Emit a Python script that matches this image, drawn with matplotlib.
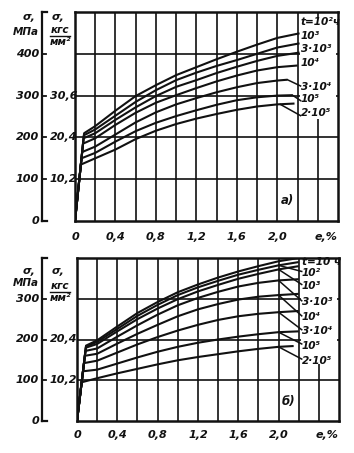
import numpy as np
import matplotlib
matplotlib.use('Agg')
import matplotlib.pyplot as plt
from matplotlib.transforms import blended_transform_factory
from matplotlib.lines import Line2D
from matplotlib.patches import Rectangle

plt.rcParams['font.family'] = ['DejaVu Sans Condensed', 'Liberation Sans Narrow', 'DejaVu Sans']
FS = dict(style='italic', weight='bold')

# ---------------- data ----------------
strain_grid = [0.2, 0.4, 0.6, 0.8, 1.0, 1.2, 1.4, 1.6, 1.8, 2.0]
x_tick_vals = [0, 0.4, 0.8, 1.2, 1.6, 2.0]
x_tick_text = ['0', '0,4', '0,8', '1,2', '1,6', '2,0']

# panel а) -- stress, MPa
a_labels = ['t=10²ч', '10³', '3·10³', '10⁴', '3·10⁴', '10⁵', '2·10⁵']
a_knee_e = [0.090, 0.088, 0.085, 0.079, 0.071, 0.064, 0.058]
a_knee_s = [210, 205, 198, 185, 165, 150, 135]
a_s_1e2 = [227, 264, 299, 325, 349, 368, 387, 405, 422, 438]
a_s_1e3 = [219, 252, 285, 313, 337, 355, 371, 385, 400, 415]
a_s_3e3 = [210, 242, 272, 299, 321, 337, 354, 369, 383, 395]
a_s_1e4 = [198, 230, 259, 283, 301, 318, 334, 348, 360, 368]
a_s_3e4 = [178, 207, 236, 260, 279, 294, 308, 320, 330, 336]
a_s_1e5 = [163, 190, 215, 235, 251, 265, 278, 289, 296, 300]
a_s_2e5 = [150, 171, 196, 216, 232, 245, 256, 266, 274, 279]
a_end_e = [2.22, 2.22, 2.22, 2.20, 2.10, 2.15, 2.17]
a_end_s = [449, 425, 403, 372, 338, 301, 281]
a_series = [a_s_1e2, a_s_1e3, a_s_3e3, a_s_1e4, a_s_3e4, a_s_1e5, a_s_2e5]

# panel б) -- stress, MPa
b_labels = ['t=10 ч', '10²', '10³', '3·10³', '10⁴', '3·10⁴', '10⁵', '2·10⁵']
b_knee_e = [0.090, 0.089, 0.088, 0.084, 0.078, 0.069, 0.060, 0.046]
b_knee_s = [185, 183, 180, 172, 160, 142, 122, 95]
b_s_10 = [198, 232, 265, 292, 316, 335, 352, 367, 380, 392]
b_s_1e2 = [194, 226, 258, 285, 309, 328, 344, 359, 371, 382]
b_s_1e3 = [189, 220, 250, 276, 299, 318, 334, 349, 361, 372]
b_s_3e3 = [178, 207, 235, 261, 284, 302, 317, 330, 339, 345]
b_s_1e4 = [165, 190, 214, 236, 257, 274, 287, 298, 305, 309]
b_s_3e4 = [148, 168, 188, 206, 222, 236, 248, 257, 263, 267]
b_s_1e5 = [126, 141, 156, 170, 182, 192, 200, 207, 213, 218]
b_s_2e5 = [105, 117, 128, 139, 149, 157, 164, 171, 177, 182]
b_end_e = [2.20, 2.20, 2.20, 2.20, 2.20, 2.20, 2.20, 2.15]
b_end_s = [400, 390, 380, 348, 312, 270, 220, 184]
b_series = [b_s_10, b_s_1e2, b_s_1e3, b_s_3e3, b_s_1e4, b_s_3e4, b_s_1e5, b_s_2e5]

mpa_ticks_a = [0, 100, 200, 300, 400]
kgf_ticks_a = [100, 200, 300]
kgf_text_a = ['10,2', '20,4', '30,6']
mpa_ticks_b = [0, 100, 200, 300]
kgf_ticks_b = [100, 200]
kgf_text_b = ['10,2', '20,4']

# ---------------- figure ----------------
W, H = 354, 453
fig = plt.figure(figsize=(W / 100, H / 100), dpi=100)
fig.patch.set_facecolor('white')

def px_axes(l, t, r, b):
    return fig.add_axes([l / W, 1 - b / H, (r - l) / W, (b - t) / H])

def fx(x):
    return x / W

def fy(y):
    return 1 - y / H

INK = '#111111'
LAB = 7.6

def setup(ax, ymax, ytop_tick):
    ax.set_xlim(0, 2.6)
    ax.set_ylim(0, ymax)
    ax.set_xticks(np.arange(0.2, 2.59, 0.2))
    ax.set_yticks(np.arange(100, ytop_tick + 1, 100))
    ax.grid(True, color=INK, lw=1.2)
    ax.tick_params(length=0, labelleft=False, labelbottom=False)
    for s in ax.spines.values():
        s.set_linewidth(1.8)
        s.set_color(INK)
    ax.set_axisbelow(True)
    for v, t in zip(x_tick_vals, x_tick_text):
        ax.text(v, -0.055 * ymax, t, ha='center', va='top', fontsize=8, color=INK, **FS)
    ax.text(2.48, -0.055 * ymax, 'e,%', ha='center', va='top', fontsize=8, color=INK, **FS)

def draw_curves(ax, knee_e, knee_s, series, end_e, end_s):
    for ke, ks, s, ee, es in zip(knee_e, knee_s, series, end_e, end_s):
        xs = [0, ke] + [g for g in strain_grid if g <= ee] + [ee]
        ys = [0, ks] + [v for g, v in zip(strain_grid, s) if g <= ee] + [es]
        ax.plot(xs, ys, color=INK, lw=1.5, solid_capstyle='butt', zorder=3)

def left_axis(ax, ymax, mpa_ticks, kgf_ticks, kgf_text):
    tr = blended_transform_factory(fig.transFigure, ax.transData)
    ax_l = 42
    fig.add_artist(Line2D([fx(ax_l)] * 2, [0, ymax], transform=tr, color=INK, lw=1.6))
    for v in [0, ymax]:
        fig.add_artist(Line2D([fx(ax_l), fx(ax_l + 5)], [v, v], transform=tr, color=INK, lw=1.6))
    for v in mpa_ticks:
        if v != 0:
            fig.add_artist(Line2D([fx(ax_l), fx(ax_l + 4)], [v, v], transform=tr, color=INK, lw=1.3))
        fig.text(fx(39), v, str(v), transform=tr, ha='right', va='center', fontsize=8, color=INK, **FS)
    for v, t in zip(kgf_ticks, kgf_text):
        fig.text(fx(50), v, t, transform=tr, ha='left', va='center', fontsize=8, color=INK, **FS)

# panel а)
ax1 = px_axes(75, 12, 338, 221)
setup(ax1, 500, 400)
ax1.add_patch(Rectangle((2.225, 245), 0.36, 240, fc='white', ec='none', zorder=1))
draw_curves(ax1, a_knee_e, a_knee_s, a_series, a_end_e, a_end_s)
left_axis(ax1, 500, mpa_ticks_a, kgf_ticks_a, kgf_text_a)
a_lab_y = [476, 443, 411, 378, 321, 292, 258]
for t, y in zip(a_labels, a_lab_y):
    ax1.text(2.23, y, t, ha='left', va='center', fontsize=LAB, color=INK, zorder=5, **FS)
for i, (e0, y1) in enumerate([(None, 323), (None, 288), (2.03, 252)]):
    k = 4 + i
    if e0 is None:
        xs0, ys0 = a_end_e[k], a_end_s[k]
    else:
        xs0, ys0 = e0, a_series[k][-1]
    ax1.plot([xs0, 2.23], [ys0, y1], color=INK, lw=1.1, zorder=3)
ax1.text(2.1, 50, 'а)', ha='center', va='center', fontsize=8.5, color=INK, **FS)

fig.text(fx(29), fy(17), 'σ,', ha='center', va='center', fontsize=8, color=INK, **FS)
fig.text(fx(26), fy(32), 'МПа', ha='center', va='center', fontsize=7.5, color=INK, **FS)
fig.text(fx(58), fy(17), 'σ,', ha='center', va='center', fontsize=8, color=INK, **FS)
fig.text(fx(60), fy(30), 'кгс', ha='center', va='center', fontsize=7.5, color=INK, **FS)
fig.add_artist(Line2D([fx(50), fx(70)], [fy(36), fy(36)], color=INK, lw=1.0))
fig.text(fx(60), fy(42), 'мм²', ha='center', va='center', fontsize=7.5, color=INK, **FS)

# panel б)
ax2 = px_axes(77, 258, 339, 421)
setup(ax2, 400, 300)
ax2.add_patch(Rectangle((2.225, 140), 0.36, 255, fc='white', ec='none', zorder=1))
draw_curves(ax2, b_knee_e, b_knee_s, b_series, b_end_e, b_end_s)
left_axis(ax2, 400, mpa_ticks_b, kgf_ticks_b, kgf_text_b)
b_lab_y = [389, 363, 331, 291, 254, 220, 185, 148]
for i, (t, y) in enumerate(zip(b_labels, b_lab_y)):
    ax2.text(2.23, y, t, ha='left', va='center', fontsize=LAB, color=INK, zorder=5, **FS)
    if i > 0:
        ax2.plot([2.0, 2.23], [b_series[i][-1], y + 4], color=INK, lw=1.1, zorder=3)
ax2.text(2.1, 47, 'б)', ha='center', va='center', fontsize=8.5, color=INK, **FS)

fig.text(fx(29), fy(271), 'σ,', ha='center', va='center', fontsize=8, color=INK, **FS)
fig.text(fx(26), fy(283), 'МПа', ha='center', va='center', fontsize=7.5, color=INK, **FS)
fig.text(fx(58), fy(271), 'σ,', ha='center', va='center', fontsize=8, color=INK, **FS)
fig.text(fx(60), fy(286), 'кгс', ha='center', va='center', fontsize=7.5, color=INK, **FS)
fig.add_artist(Line2D([fx(50), fx(70)], [fy(292), fy(292)], color=INK, lw=1.0))
fig.text(fx(60), fy(298), 'мм²', ha='center', va='center', fontsize=7.5, color=INK, **FS)

fig.savefig('out.png', dpi=100, facecolor='white')
